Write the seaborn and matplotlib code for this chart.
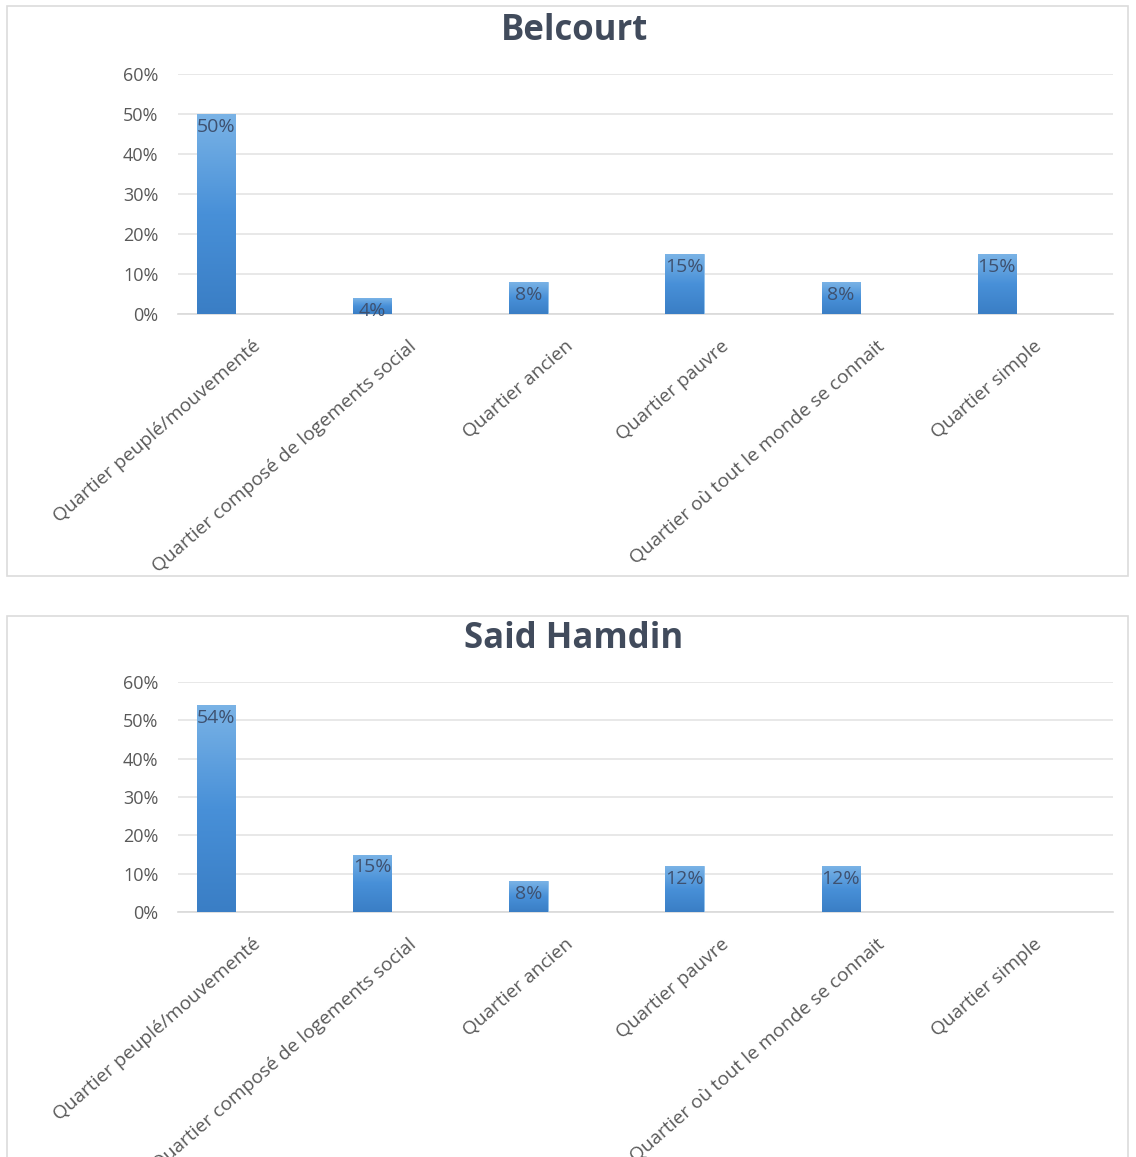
import numpy as np
import pandas as pd
import matplotlib
matplotlib.use("Agg")
import matplotlib.pyplot as plt
import seaborn as sns
from matplotlib.patches import Rectangle
from matplotlib.transforms import ScaledTranslation
from matplotlib.colors import LinearSegmentedColormap

categories = [
    "Quartier peuplé/mouvementé",
    "Quartier composé de logements social",
    "Quartier ancien",
    "Quartier pauvre",
    "Quartier où tout le monde se connait",
    "Quartier simple",
]
belcourt = [50, 4, 8, 15, 8, 15]
said_hamdin = [54, 15, 8, 12, 12, np.nan]
titles = ["Belcourt", "Said Hamdin"]
yticks = [0, 10, 20, 30, 40, 50, 60]
ytick_labels = ["0%", "10%", "20%", "30%", "40%", "50%", "60%"]

sns.set_theme(style="white")
plt.rcParams["font.family"] = ["Open Sans", "DejaVu Sans"]

W, H = 1136, 1157
fig = plt.figure(figsize=(W / 100, H / 100), dpi=100)
fig.patch.set_facecolor("white")

# chart frames
fig.patches.append(Rectangle((7 / W, 1 - 576 / H), (1128 - 7) / W, (576 - 6) / H,
                             transform=fig.transFigure, fill=False, ec="#dcdcdc", lw=1.2))
fig.patches.append(Rectangle((7 / W, 1 - 1170 / H), (1128 - 7) / W, (1170 - 616) / H,
                             transform=fig.transFigure, fill=False, ec="#dcdcdc", lw=1.2,
                             clip_on=False))

grad = LinearSegmentedColormap.from_list("g", ["#3a7ec5", "#4890d8", "#7ab3e6"])

layouts = [
    # (left_px, right_px, top_px, bottom_px, title_y_px)
    (178, 1113, 74, 314, 31),
    (178, 1113, 682, 912, 639),
]
datasets = [belcourt, said_hamdin]

for (l, r, t, b, ty), values, title in zip(layouts, datasets, titles):
    ax = fig.add_axes([l / W, 1 - b / H, (r - l) / W, (b - t) / H])
    df = pd.DataFrame({"cat": categories, "val": values})
    sns.barplot(data=df, x="cat", y="val", ax=ax, color="#4a90d9", width=0.245,
                saturation=1, errorbar=None, zorder=3)
    ax.set_ylim(0, 60)
    ax.set_yticks(yticks)
    ax.set_yticklabels(ytick_labels)
    ax.set_xlabel("")
    ax.set_ylabel("")
    ax.yaxis.grid(True, color="#e4e4e4", lw=1.2, zorder=0)
    ax.set_axisbelow(True)
    for s in ["top", "right", "left"]:
        ax.spines[s].set_visible(False)
    ax.spines["bottom"].set_color("#d9d9d9")
    ax.spines["bottom"].set_linewidth(1.2)
    ax.tick_params(axis="y", length=0, pad=14, labelsize=13, labelcolor="#595959")
    ax.tick_params(axis="x", length=0, pad=0, labelsize=13.8, labelcolor="#595959")

    # gradient fill on bars (relative to each bar's height)
    for p in ax.patches:
        x0 = p.get_x()
        w, h = p.get_width(), p.get_height()
        if not np.isfinite(h) or h <= 0:
            continue
        img = ax.imshow(np.linspace(1, 0, 256).reshape(-1, 1), cmap=grad, aspect="auto",
                        extent=[x0, x0 + w, 0, h], zorder=3.5, vmin=0, vmax=1)
        img.set_clip_path(p)
        p.set_edgecolor("#8fc0ec")
        p.set_linewidth(0.6)
    ax.set_xlim(-0.244, len(categories) - 0.256)
    ax.set_ylim(0, 60)

    ax.set_xticks(range(len(categories)))
    ax.set_xticklabels(categories, rotation=41, ha="right", va="center",
                       rotation_mode="anchor")
    off = ScaledTranslation(42 / 100, -30 / 100, fig.dpi_scale_trans)
    for lab in ax.get_xticklabels():
        lab.set_transform(lab.get_transform() + off)

    for i, v in enumerate(values):
        if np.isfinite(v):
            ax.annotate(f"{v:.0f}%", xy=(i, v), xytext=(0, -13), textcoords="offset pixels",
                        ha="center", va="center", fontsize=14, color="#3e5170",
                        zorder=5, annotation_clip=False)

    fig.text(574 / W, 1 - ty / H, title, ha="center", va="center", fontsize=25,
             fontweight="bold", color="#414b5c")

fig.savefig("out.png", dpi=100, facecolor="white")
